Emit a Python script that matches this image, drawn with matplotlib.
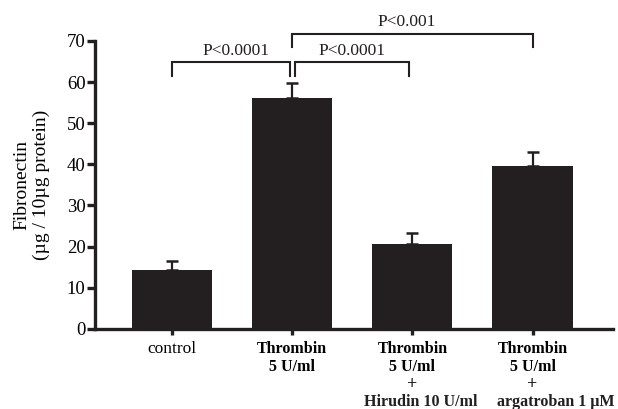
import matplotlib.pyplot as plt
from matplotlib.transforms import blended_transform_factory

plt.rcParams['font.family'] = ['Liberation Serif', 'DejaVu Serif']

groups = ['control', 'Thrombin\n5 U/ml', 'Thrombin\n5 U/ml', 'Thrombin\n5 U/ml']
extras = ['', '', 'Hirudin 10 U/ml', 'argatroban 1 \u03bcM']
means = [14.3, 56.2, 20.6, 39.5]
errs = [2.2, 3.5, 2.8, 3.6]
yticks = [0, 10, 20, 30, 40, 50, 60, 70]

# significance brackets: (x left, x right, y top, y legs, label, label x, label y)
brackets = [
    (0.0, 0.98, 64.8, 61.5, 'P<0.0001', 0.53, 65.6),
    (1.02, 1.97, 64.8, 61.5, 'P<0.0001', 1.5, 65.6),
    (1.0, 3.0, 71.7, 68.5, 'P<0.001', 1.95, 72.6),
]

dark = '#231f20'
fig = plt.figure(figsize=(6.18, 4.09), dpi=100)
ax = fig.add_axes([0.154, 0.196, 0.838, 0.704])

x = list(range(len(groups)))
ax.bar(x, means, width=0.667, color=dark, zorder=2)
ax.errorbar(x, means, yerr=[[0] * len(errs), errs], fmt='none', ecolor=dark,
            elinewidth=1.6, capsize=4, capthick=1.8, zorder=1)

for x0, x1, ytop, yleg, lab, lx, ly in brackets:
    ax.plot([x0, x0, x1, x1], [yleg, ytop, ytop, yleg], color=dark, lw=1.5,
            clip_on=False, solid_joinstyle='miter')
    ax.text(lx, ly, lab, ha='center', va='bottom', fontsize=12.5, color=dark)

ax.set_xlim(-0.64, 3.67)
ax.set_ylim(0, 70)
ax.set_yticks(yticks)
ax.set_xticks(x)
ax.set_xticklabels(groups, fontsize=11.5, linespacing=1.15)
for i, t in enumerate(ax.get_xticklabels()):
    if i > 0:
        t.set_fontweight('bold')
    else:
        t.set_fontsize(12.5)

# "+" and the inhibitor line below the tick labels
tr = blended_transform_factory(ax.transData, ax.transAxes)
shift = [0, 0, 0.07, 0.19]
for i, ex in enumerate(extras):
    if ex:
        ax.text(i, -0.192, '+', transform=tr, ha='center', va='center',
                fontsize=13, fontweight='bold', color=dark)
        ax.text(i + shift[i], -0.268, ex, transform=tr, ha='center',
                va='baseline', fontsize=11.5, fontweight='bold', color=dark)

for s in ['top', 'right']:
    ax.spines[s].set_visible(False)
for s in ['left', 'bottom']:
    ax.spines[s].set_linewidth(2.4)
    ax.spines[s].set_color(dark)

ax.tick_params(axis='y', length=6, width=2.4, labelsize=13.5, pad=1, color=dark)
ax.tick_params(axis='x', length=4, width=2.4, pad=5, color=dark)

ax.set_ylabel('Fibronectin\n(\u00b5g / 10\u00b5g protein)', fontsize=14,
              linespacing=1.2, labelpad=12)

plt.savefig('out.png', dpi=100)
